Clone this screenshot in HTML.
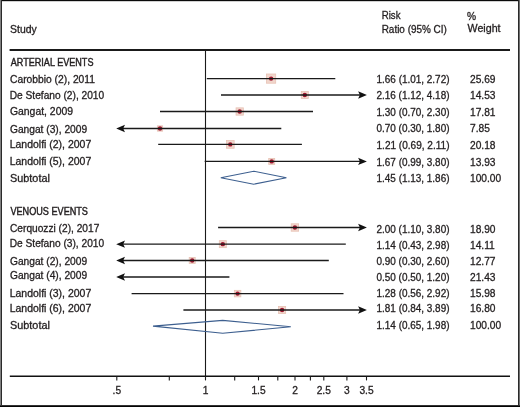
<!DOCTYPE html>
<html><head><meta charset="utf-8"><style>
html,body{margin:0;padding:0;background:#fff;}
body{width:520px;height:407px;overflow:hidden;position:relative;}
svg{position:absolute;left:0;top:0;will-change:transform;}
text{font-family:"Liberation Sans",sans-serif;font-size:10.2px;fill:#231f20;stroke:#231f20;stroke-width:0.3px;}
.caps{stroke-width:0.42px;}
.ci{stroke:#1a1a1a;stroke-width:1.35;}
.hl{stroke:#1a1a1a;stroke-width:1.8;}
.ax{stroke:#111;stroke-width:1.45;}
.vl{stroke:#1a1a1a;stroke-width:1.1;}
.tk{stroke:#1a1a1a;stroke-width:1.1;}
.ah{fill:#111;}
.sq{fill:#f1d6cc;stroke:#e8c2b5;stroke-width:0.8;}
.dot{fill:#a0162f;}
.dm{fill:none;stroke:#3d5f8f;stroke-width:1.1;stroke-linejoin:miter;}
.b{position:absolute;}
</style></head><body>
<svg width="520" height="407" viewBox="0 0 520 407">
<text id="t0" x="10.084" y="32.7" textLength="26.645" lengthAdjust="spacingAndGlyphs">Study</text>
<text id="t1" x="381.723" y="19.2" textLength="18.784" lengthAdjust="spacingAndGlyphs">Risk</text>
<text id="t2" x="381.672" y="32.5" textLength="65.210" lengthAdjust="spacingAndGlyphs">Ratio (95% CI)</text>
<text id="t3" x="467.000" y="19.5">%</text>
<text id="t4" x="467.553" y="32.4" textLength="33.043" lengthAdjust="spacingAndGlyphs">Weight</text>
<line class="hl" x1="9.6" y1="50.0" x2="510" y2="50.0"/>
<line class="vl" x1="205.5" y1="50" x2="205.5" y2="376.3"/>
<text id="t5" x="10.735" y="65.7" textLength="82.731" lengthAdjust="spacingAndGlyphs" class="caps">ARTERIAL EVENTS</text>
<text id="t6" x="9.991" y="82.75" textLength="85.026" lengthAdjust="spacingAndGlyphs">Carobbio (2), 2011</text>
<text id="t7" x="376.517" y="82.85" textLength="72.974" lengthAdjust="spacingAndGlyphs">1.66 (1.01, 2.72)</text>
<text id="t8" x="470.000" y="82.85">25.69</text>
<rect class="sq" x="266.50" y="74.00" width="9.20" height="9.20"/>
<circle class="dot" cx="271.1" cy="78.6" r="2.2"/>
<line class="ci" x1="206.8" y1="78.6" x2="335.3" y2="78.6"/>
<text id="t9" x="9.709" y="98.7" textLength="94.473" lengthAdjust="spacingAndGlyphs">De Stefano (2), 2010</text>
<text id="t10" x="376.512" y="99.4" textLength="72.979" lengthAdjust="spacingAndGlyphs">2.16 (1.12, 4.18)</text>
<text id="t11" x="470.000" y="99.4">14.53</text>
<rect class="sq" x="301.30" y="91.50" width="7.00" height="7.00"/>
<circle class="dot" cx="304.8" cy="95.0" r="2.2"/>
<line class="ci" x1="221.0" y1="95.0" x2="360.9" y2="95.0"/>
<polygon class="ah" points="366.90,95.00 358.10,91.30 359.90,95.00 358.10,98.70"/>
<text id="t12" x="9.967" y="115.4" textLength="63.062" lengthAdjust="spacingAndGlyphs">Gangat, 2009</text>
<text id="t13" x="376.517" y="115.9" textLength="72.974" lengthAdjust="spacingAndGlyphs">1.30 (0.70, 2.30)</text>
<text id="t14" x="470.000" y="115.9">17.81</text>
<rect class="sq" x="236.05" y="107.85" width="7.30" height="7.30"/>
<circle class="dot" cx="239.7" cy="111.5" r="2.2"/>
<line class="ci" x1="160.0" y1="111.5" x2="313.0" y2="111.5"/>
<text id="t15" x="9.999" y="133.0" textLength="77.158" lengthAdjust="spacingAndGlyphs">Gangat (3), 2009</text>
<text id="t16" x="376.512" y="132.3" textLength="72.979" lengthAdjust="spacingAndGlyphs">0.70 (0.30, 1.80)</text>
<text id="t17" x="470.000" y="132.3">7.85</text>
<rect class="sq" x="157.35" y="125.85" width="5.30" height="5.30"/>
<circle class="dot" cx="160.0" cy="128.5" r="2.2"/>
<line class="ci" x1="122.2" y1="128.5" x2="281.3" y2="128.5"/>
<polygon class="ah" points="116.20,128.50 125.00,124.80 123.20,128.50 125.00,132.20"/>
<text id="t18" x="9.672" y="148.4" textLength="81.538" lengthAdjust="spacingAndGlyphs">Landolfi (2), 2007</text>
<text id="t19" x="376.510" y="148.9" textLength="73.012" lengthAdjust="spacingAndGlyphs">1.21 (0.69, 2.11)</text>
<text id="t20" x="470.000" y="148.9">20.18</text>
<rect class="sq" x="226.45" y="140.55" width="7.70" height="7.70"/>
<circle class="dot" cx="230.3" cy="144.4" r="2.2"/>
<line class="ci" x1="158.2" y1="144.4" x2="301.9" y2="144.4"/>
<text id="t21" x="9.672" y="165.4" textLength="81.538" lengthAdjust="spacingAndGlyphs">Landolfi (5), 2007</text>
<text id="t22" x="376.517" y="165.5" textLength="72.974" lengthAdjust="spacingAndGlyphs">1.67 (0.99, 3.80)</text>
<text id="t23" x="470.000" y="165.5">13.93</text>
<rect class="sq" x="268.70" y="158.40" width="6.00" height="6.00"/>
<circle class="dot" cx="271.7" cy="161.4" r="2.2"/>
<line class="ci" x1="204.7" y1="161.4" x2="360.9" y2="161.4"/>
<polygon class="ah" points="366.90,161.40 358.10,157.70 359.90,161.40 358.10,165.10"/>
<text id="t24" x="10.006" y="181.6" textLength="39.853" lengthAdjust="spacingAndGlyphs">Subtotal</text>
<text id="t25" x="376.517" y="182.1" textLength="72.974" lengthAdjust="spacingAndGlyphs">1.45 (1.13, 1.86)</text>
<text id="t26" x="470.000" y="182.1">100.00</text>
<polygon class="dm" points="220.8,177.7 253.7,171.2 286.4,177.7 253.7,184.2"/>
<text id="t27" x="10.473" y="214.8" textLength="77.462" lengthAdjust="spacingAndGlyphs" class="caps">VENOUS EVENTS</text>
<text id="t28" x="10.001" y="231.6" textLength="89.313" lengthAdjust="spacingAndGlyphs">Cerquozzi (2), 2017</text>
<text id="t29" x="376.512" y="232.9" textLength="72.979" lengthAdjust="spacingAndGlyphs">2.00 (1.10, 3.80)</text>
<text id="t30" x="470.000" y="232.9">18.90</text>
<rect class="sq" x="291.20" y="223.80" width="7.40" height="7.40"/>
<circle class="dot" cx="294.9" cy="227.5" r="2.2"/>
<line class="ci" x1="218.1" y1="227.5" x2="360.9" y2="227.5"/>
<polygon class="ah" points="366.90,227.50 358.10,223.80 359.90,227.50 358.10,231.20"/>
<text id="t31" x="9.710" y="247.0" textLength="94.393" lengthAdjust="spacingAndGlyphs">De Stefano (3), 2010</text>
<text id="t32" x="376.517" y="248.6" textLength="72.974" lengthAdjust="spacingAndGlyphs">1.14 (0.43, 2.98)</text>
<text id="t33" x="470.000" y="248.6">14.11</text>
<rect class="sq" x="219.30" y="240.65" width="7.00" height="7.00"/>
<circle class="dot" cx="222.8" cy="244.15" r="2.2"/>
<line class="ci" x1="122.2" y1="244.15" x2="345.8" y2="244.15"/>
<polygon class="ah" points="116.20,244.15 125.00,240.45 123.20,244.15 125.00,247.85"/>
<text id="t34" x="9.999" y="264.7" textLength="77.158" lengthAdjust="spacingAndGlyphs">Gangat (2), 2009</text>
<text id="t35" x="376.512" y="264.8" textLength="72.979" lengthAdjust="spacingAndGlyphs">0.90 (0.30, 2.60)</text>
<text id="t36" x="470.000" y="264.8">12.77</text>
<rect class="sq" x="189.20" y="257.45" width="6.00" height="6.00"/>
<circle class="dot" cx="192.2" cy="260.45" r="2.2"/>
<line class="ci" x1="122.2" y1="260.45" x2="328.8" y2="260.45"/>
<polygon class="ah" points="116.20,260.45 125.00,256.75 123.20,260.45 125.00,264.15"/>
<text id="t37" x="9.999" y="279.0" textLength="77.158" lengthAdjust="spacingAndGlyphs">Gangat (4), 2009</text>
<text id="t38" x="376.512" y="280.6" textLength="72.979" lengthAdjust="spacingAndGlyphs">0.50 (0.50, 1.20)</text>
<text id="t39" x="470.000" y="280.6">21.43</text>
<line class="ci" x1="122.2" y1="277.0" x2="229.4" y2="277.0"/>
<polygon class="ah" points="116.20,277.00 125.00,273.30 123.20,277.00 125.00,280.70"/>
<text id="t40" x="9.672" y="297.4" textLength="81.538" lengthAdjust="spacingAndGlyphs">Landolfi (3), 2007</text>
<text id="t41" x="376.517" y="296.5" textLength="72.974" lengthAdjust="spacingAndGlyphs">1.28 (0.56, 2.92)</text>
<text id="t42" x="470.000" y="296.5">15.98</text>
<rect class="sq" x="234.35" y="290.35" width="6.50" height="6.50"/>
<circle class="dot" cx="237.6" cy="293.6" r="2.2"/>
<line class="ci" x1="131.6" y1="293.6" x2="343.5" y2="293.6"/>
<text id="t43" x="9.672" y="311.9" textLength="81.538" lengthAdjust="spacingAndGlyphs">Landolfi (6), 2007</text>
<text id="t44" x="376.517" y="312.2" textLength="72.974" lengthAdjust="spacingAndGlyphs">1.81 (0.84, 3.89)</text>
<text id="t45" x="470.000" y="312.2">16.80</text>
<rect class="sq" x="278.55" y="306.45" width="7.10" height="7.10"/>
<circle class="dot" cx="282.1" cy="310.0" r="2.2"/>
<line class="ci" x1="183.4" y1="310.0" x2="360.9" y2="310.0"/>
<polygon class="ah" points="366.90,310.00 358.10,306.30 359.90,310.00 358.10,313.70"/>
<text id="t46" x="10.006" y="329.3" textLength="39.853" lengthAdjust="spacingAndGlyphs">Subtotal</text>
<text id="t47" x="376.517" y="328.5" textLength="72.974" lengthAdjust="spacingAndGlyphs">1.14 (0.65, 1.98)</text>
<text id="t48" x="470.000" y="328.5">100.00</text>
<polygon class="dm" points="153,326.1 222.7,320.4 290.8,326.7 222.7,333.3"/>
<line class="ax" x1="9.8" y1="376.25" x2="510" y2="376.25"/>
<line class="tk" x1="116.8" y1="376.25" x2="116.8" y2="380.4"/>
<text x="116.8" y="393.8" text-anchor="middle">.5</text>
<line class="tk" x1="169.3" y1="376.25" x2="169.3" y2="380.4"/>
<line class="tk" x1="205.5" y1="376.25" x2="205.5" y2="380.4"/>
<text x="205.5" y="393.8" text-anchor="middle">1</text>
<line class="tk" x1="234.7" y1="376.25" x2="234.7" y2="380.4"/>
<line class="tk" x1="258.5" y1="376.25" x2="258.5" y2="380.4"/>
<text x="258.5" y="393.8" text-anchor="middle">1.5</text>
<line class="tk" x1="277.8" y1="376.25" x2="277.8" y2="380.4"/>
<line class="tk" x1="295.0" y1="376.25" x2="295.0" y2="380.4"/>
<text x="295.0" y="393.8" text-anchor="middle">2</text>
<line class="tk" x1="310.4" y1="376.25" x2="310.4" y2="380.4"/>
<line class="tk" x1="323.8" y1="376.25" x2="323.8" y2="380.4"/>
<text x="323.8" y="393.8" text-anchor="middle">2.5</text>
<line class="tk" x1="346.9" y1="376.25" x2="346.9" y2="380.4"/>
<text x="346.9" y="393.8" text-anchor="middle">3</text>
<line class="tk" x1="366.5" y1="376.25" x2="366.5" y2="380.4"/>
<text x="366.5" y="393.8" text-anchor="middle">3.5</text>
</svg>
<div class="b" style="left:0;top:0;width:520px;height:1px;background:#0a0a0a"></div>
<div class="b" style="left:0;top:1px;width:520px;height:1px;background:#d0d0d0"></div>
<div class="b" style="left:0;top:0;width:1px;height:407px;background:#808080"></div>
<div class="b" style="left:1px;top:0;width:1px;height:407px;background:#2a2a2a"></div>
<div class="b" style="left:518px;top:0;width:1px;height:407px;background:#2a2a2a"></div>
<div class="b" style="left:519px;top:0;width:1px;height:407px;background:#707070"></div>
<div class="b" style="left:0;top:405px;width:520px;height:1px;background:#333"></div>
<div class="b" style="left:0;top:406px;width:520px;height:1px;background:#050505"></div>
</body></html>
